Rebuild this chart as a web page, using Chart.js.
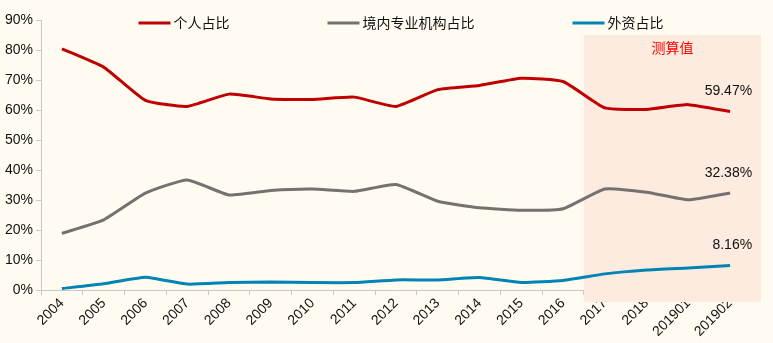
<!DOCTYPE html>
<html>
<head>
<meta charset="utf-8">
<script src="https://cdn.jsdelivr.net/npm/chart.js@4"></script>
<style>
  html, body { margin: 0; padding: 0; background: #fffbf1; }
  #wrap { width: 773px; height: 343px; }
</style>
</head>
<body>
<div id="wrap"><canvas id="shareChart"></canvas></div>
<script>
// categories and series (percent)
const years = ["2004", "2005", "2006", "2007", "2008", "2009", "2010", "2011", "2012",
    "2013", "2014", "2015", "2016", "2017", "2018", "201901", "201902"];
const individual = [80.4, 74.3, 63.2, 61.2, 65.3, 63.7, 63.5, 64.3, 61.2, 66.8, 68.2, 70.6, 69.5, 60.7, 60.2, 61.8, 59.47];
const domesticInst = [18.9, 23.4, 32.3, 36.7, 31.7, 33.2, 33.7, 32.9, 35.2, 29.6, 27.4, 26.6, 27.1, 33.7, 32.6, 30.1, 32.38];
const foreignCap = [0.5, 2.1, 4.3, 2.0, 2.5, 2.7, 2.5, 2.5, 3.4, 3.4, 4.2, 2.5, 3.2, 5.4, 6.7, 7.4, 8.16];
const seriesNames = ["个人占比", "境内专业机构占比", "外资占比"];
const estimateLabel = "测算值";
const estimateFrom = "2017";

const latinFont = "'Liberation Sans', Arial, sans-serif";
const cjkFont = "'Noto Sans CJK SC', sans-serif";

// shaded "estimate" block behind the lines
const estimateBand = {
    id: 'estimateBand',
    beforeDatasetsDraw(chart) {
        const { ctx, chartArea, scales: { x, y } } = chart;
        const left = x.getPixelForValue(years.indexOf(estimateFrom) - 0.5);
        const right = chartArea.right + 10;
        const top = y.getPixelForValue(85);
        const bottom = chartArea.bottom + 12;
        ctx.save();
        ctx.fillStyle = '#fdebdf';
        ctx.fillRect(left, top, right - left, bottom - top);
        ctx.fillStyle = '#ff0000';
        ctx.font = "14px " + cjkFont;
        ctx.textAlign = 'center';
        ctx.textBaseline = 'middle';
        ctx.fillText(estimateLabel, (left + right) / 2, top + 13);
        ctx.restore();
    }
};

// legend drawn inside the plot, end-value labels
const overlay = {
    id: 'overlay',
    afterDraw(chart) {
        const { ctx, chartArea } = chart;
        ctx.save();
        // legend
        ctx.font = "14px " + cjkFont;
        ctx.textBaseline = 'middle';
        const lineW = 32, gap = 3, spacing = 98;
        const items = chart.data.datasets.map(ds => ({
            ds, w: lineW + gap + ctx.measureText(ds.label).width
        }));
        const total = items.reduce((s, it) => s + it.w, 0) + spacing * (items.length - 1);
        let cx = (chartArea.left + chartArea.right) / 2 - total / 2 + 5;
        const ly = 23;
        items.forEach(it => {
            ctx.strokeStyle = it.ds.borderColor;
            ctx.lineWidth = 3;
            ctx.beginPath();
            ctx.moveTo(cx, ly);
            ctx.lineTo(cx + lineW, ly);
            ctx.stroke();
            ctx.fillStyle = '#111';
            ctx.textAlign = 'left';
            ctx.fillText(it.ds.label, cx + lineW + gap, ly);
            cx += it.w + spacing;
        });
        // last value labels
        ctx.font = "14px " + latinFont;
        ctx.textAlign = 'right';
        ctx.fillStyle = '#111';
        chart.data.datasets.forEach((ds, i) => {
            const pts = chart.getDatasetMeta(i).data;
            const p = pts[pts.length - 1];
            const v = ds.data[ds.data.length - 1];
            ctx.fillText(v.toFixed(2) + '%', p.x + 22, p.y - 20);
        });
        ctx.restore();
    }
};

function lineSet(label, data, color) {
    return {
        label: label,
        data: data,
        borderColor: color,
        backgroundColor: color,
        borderWidth: 3,
        pointRadius: 0,
        tension: 0.15,
        fill: false
    };
}

const ctx = document.getElementById('shareChart').getContext('2d');
const shareChart = new Chart(ctx, {
    type: 'line',
    data: {
        labels: years,
        datasets: [
            lineSet(seriesNames[0], individual, '#c00000'),
            lineSet(seriesNames[1], domesticInst, '#767171'),
            lineSet(seriesNames[2], foreignCap, '#0083b5')
        ]
    },
    options: {
        responsive: true,
        maintainAspectRatio: false,
        animation: false,
        layout: { padding: { top: 20, right: 22, bottom: 3, left: 2 } },
        plugins: {
            legend: { display: false },
            tooltip: { enabled: false }
        },
        scales: {
            x: {
                offset: true,
                grid: { display: true, drawOnChartArea: false, offset: true, tickLength: 5, color: '#c8c8c8' },
                border: { color: '#c8c8c8' },
                ticks: {
                    color: '#111',
                    font: { family: latinFont, size: 14 },
                    minRotation: 45,
                    maxRotation: 45,
                    autoSkip: false,
                    padding: 0
                }
            },
            y: {
                min: 0,
                max: 90,
                grid: { drawOnChartArea: false, tickLength: 5, color: '#c8c8c8' },
                border: { color: '#c8c8c8' },
                ticks: {
                    stepSize: 10,
                    color: '#111',
                    font: { family: latinFont, size: 14 },
                    padding: 3,
                    callback: v => v + '%'
                }
            }
        }
    },
    plugins: [estimateBand, overlay]
});
</script>
</body>
</html>
